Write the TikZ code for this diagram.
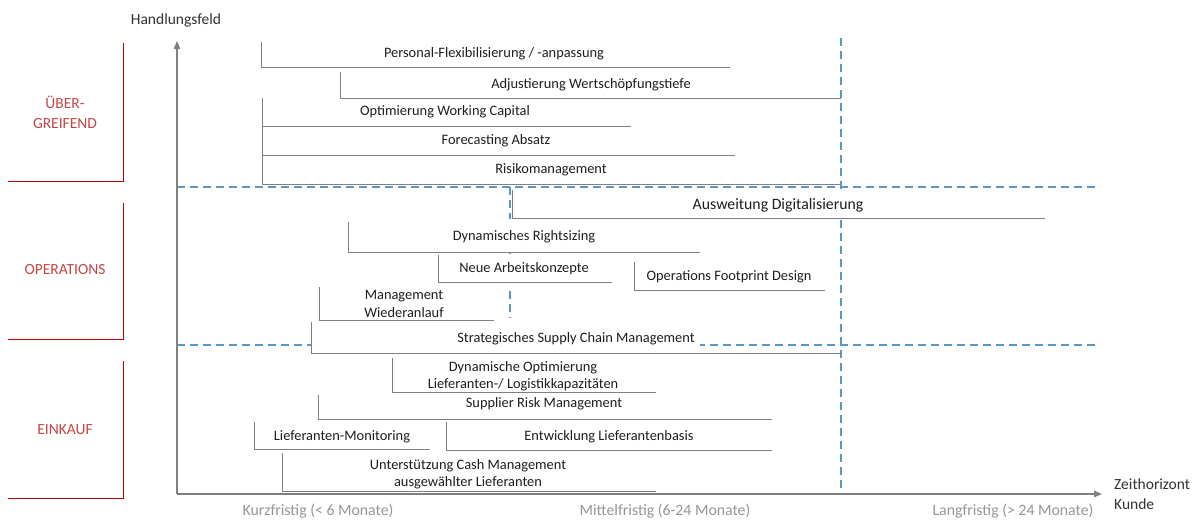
\documentclass[tikz,border=0pt]{standalone}
\usepackage{fontspec}
\setmainfont{Carlito}
\usetikzlibrary{arrows.meta}
\definecolor{lgray}{RGB}{128,128,128}
\definecolor{dblue}{RGB}{92,152,198}
\definecolor{cred}{RGB}{192,0,0}
\definecolor{credtxt}{RGB}{196,70,70}
\definecolor{txt}{RGB}{30,30,30}
\definecolor{axtxt}{RGB}{50,50,50}
\definecolor{ltxt}{RGB}{150,150,150}
\begin{document}
\begin{tikzpicture}[x=1pt,y=-1pt,
  axis/.style={draw=lgray, line width=1.1pt, -{Triangle[length=8pt,width=6.5pt]}},
  sep/.style={draw=dblue, line width=1.8pt, dash pattern=on 8pt off 5pt},
  brk/.style={draw=lgray, line width=1pt},
  cover/.style={fill=white, draw=none},
  lbl/.style={font=\fontsize{14.4}{17.5}\selectfont, text=txt, inner sep=0pt, align=center},
  biglbl/.style={lbl, font=\fontsize{15.8}{19}\selectfont},
  grp/.style={font=\fontsize{15.5}{19.5}\selectfont, text=credtxt, inner sep=0pt, align=center},
  grpline/.style={draw=cred, line width=1pt},
  horiz/.style={font=\fontsize{15.8}{19}\selectfont, text=ltxt, inner sep=0pt},
  axlbl/.style={font=\fontsize{15.5}{20}\selectfont, text=axtxt, inner sep=0pt, align=left}]
\useasboundingbox (0,0) rectangle (1198,520);
\fill[white] (0,0) rectangle (1198,520);

% group brackets
\draw[grpline] (123.5,43) -- (123.5,181) -- (8,181);
\draw[grpline] (123.5,203) -- (123.5,339) -- (8,339);
\draw[grpline] (123.5,361) -- (123.5,498) -- (8,498);
\node[grp] (gueber) at (65,112.5) {ÜBER-\\GREIFEND};
\node[grp] (gops) at (65,270) {OPERATIONS};
\node[grp] (gein) at (65,430) {EINKAUF};

% separators
\draw[sep] (177,187) -- (1100,187);
\draw[sep] (177,345) -- (1098,345);
\draw[sep] (841,38) -- (841,494);
\draw[sep] (510,187) -- (510,494);

% white covers of the text boxes
\path[cover] (512,190) rectangle (1045,218);
\path[cover] (348,219) rectangle (700,252);
\path[cover] (438,254) rectangle (612,287);
\path[cover] (312,318) rectangle (700,352);
\path[cover] (392,356) rectangle (656,393);
\path[cover] (318,393) rectangle (772,420);
\path[cover] (446,420) rectangle (772,451);
\path[cover] (282,451) rectangle (656,493);

% brackets
\draw[brk] (261,42) |- (730,67);
\draw[brk] (340,72) |- (841,98);
\draw[brk] (262,98) |- (631,126);
\draw[brk] (262,126) |- (735,155);
\draw[brk] (262,155) |- (841,184);
\draw[brk] (512,190) |- (1045,218);
\draw[brk] (348,222) |- (700,252);
\draw[brk] (438,255) |- (612,282);
\draw[brk] (634,262) |- (825,290);
\draw[brk] (319,287) |- (494,320);
\draw[brk] (311,322) |- (841,353);
\draw[brk] (392,358) |- (656,392);
\draw[brk] (318,395) |- (772,419);
\draw[brk] (254,422) |- (430,449);
\draw[brk] (446,422) |- (772,450);
\draw[brk] (282,453) |- (656,491);

% texts
\node[lbl] (t1) at (494,54) {Personal-Flexibilisierung / -anpassung};
\node[lbl] (t2) at (591,85) {Adjustierung Wertschöpfungstiefe};
\node[lbl] (t3) at (445,112) {Optimierung Working Capital};
\node[lbl] (t4) at (496,141) {Forecasting Absatz};
\node[lbl] (t5) at (551,170) {Risikomanagement};
\node[biglbl] (t6) at (778,205) {Ausweitung Digitalisierung};
\node[lbl] (t7) at (524,237) {Dynamisches Rightsizing};
\node[lbl] (t8) at (524,269) {Neue Arbeitskonzepte};
\node[lbl] (t9) at (729,277) {Operations Footprint Design};
\node[lbl] (t10) at (404,304) {Management\\Wiederanlauf};
\node[lbl] (t11) at (576,339) {Strategisches Supply Chain Management};
\node[lbl] (t12) at (523,376) {Dynamische Optimierung\\Lieferanten-/ Logistikkapazitäten};
\node[lbl] (t13) at (544,404) {Supplier Risk Management};
\node[lbl] (t14) at (342,437) {Lieferanten-Monitoring};
\node[lbl] (t15) at (609,437) {Entwicklung Lieferantenbasis};
\node[lbl] (t16) at (468,474) {Unterstützung Cash Management\\ausgewählter Lieferanten};

% axes
\coordinate (o) at (177,494);
\coordinate (ytip) at (177,41);
\coordinate (xtip) at (1102,494);
\draw[axis] (o) -- (ytip);
\draw[axis] (o) -- (xtip);
\node[axlbl] (yl) at (176,20) {Handlungsfeld};
\node[axlbl, anchor=west] (xl) at (1114,494) {Zeithorizont\\Kunde};
\node[horiz] (h1) at (318,511) {Kurzfristig (< 6 Monate)};
\node[horiz] (h2) at (665,511) {Mittelfristig (6-24 Monate)};
\node[horiz] (h3) at (1013,511) {Langfristig (> 24 Monate)};
\end{tikzpicture}
\end{document}
